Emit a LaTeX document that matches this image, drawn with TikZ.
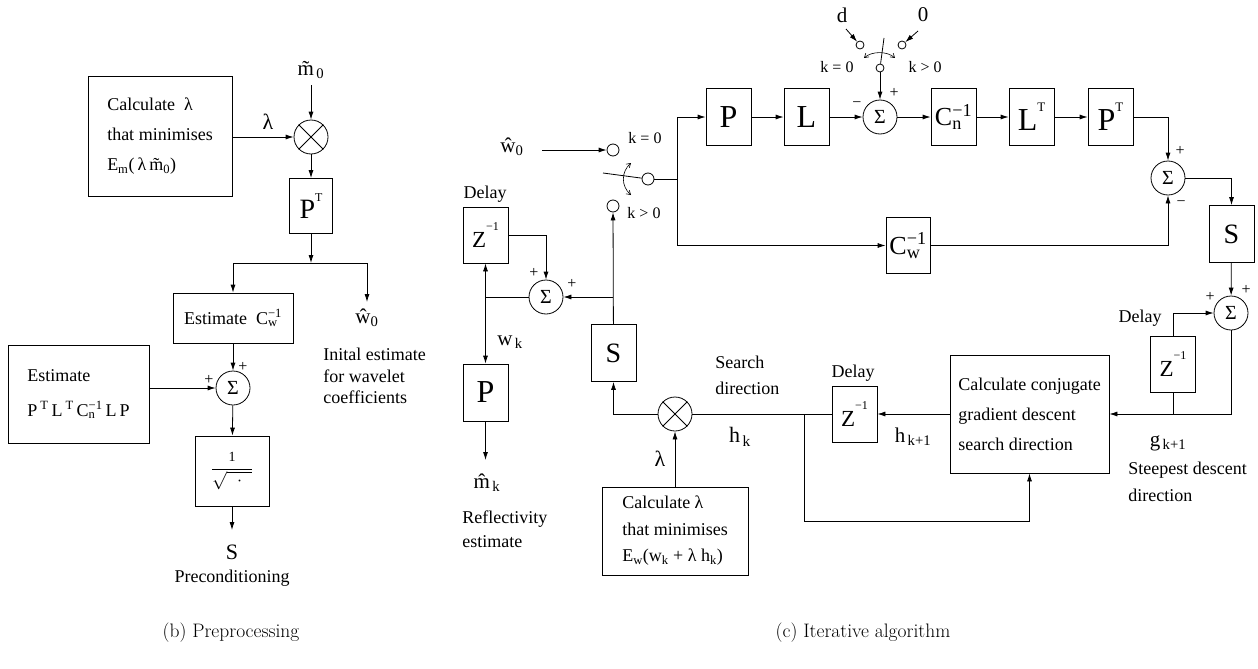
\RequirePackage{fix-cm}
\documentclass[tikz,border=0pt]{standalone}
\usepackage{amsmath}
\usepackage{fontspec}
\newfontfamily\tms{Liberation Serif}
\usetikzlibrary{arrows.meta}
\newcommand\subsupx[2]{\rlap{\textsubscript{#1}}\textsuperscript{#2}}
\newcommand\fs[1]{\fontsize{#1}{#1}\selectfont}
\newcommand\hsup[3]{\raisebox{#1}{\fontsize{#2}{#2}\selectfont #3}}
\begin{document}
\begin{tikzpicture}[x=1pt,y=-1pt,line width=0.8pt,
  every node/.style={font=\tms\fs{18}, inner sep=0pt},
  blk/.style={draw, minimum width=45pt, minimum height=57pt, font=\tms\fs{32}},
  zblk/.style={draw, minimum width=45pt, minimum height=56pt, font=\tms\fs{23}},
  sumc/.style={draw, circle, minimum size=34pt, font=\tms\fs{20}},
  mulc/.style={draw, circle, minimum size=34pt},
  swc/.style={draw, circle, minimum size=12pt},
  tsw/.style={draw, circle, minimum size=8pt},
  arr/.style={-{Latex[length=8pt,width=5pt]}},
  barb/.style={{Straight Barb[length=4pt,width=5pt]}-{Straight Barb[length=4pt,width=5pt]}, line width=0.6pt},
  sgn/.style={font=\tms\fs{16}},
  lbl/.style={font=\tms\fs{16}},
  txt/.style={align=left, anchor=north west}]
\useasboundingbox (0,0) rectangle (1258,669);

% ================= (b) Preprocessing =================
\node[draw, minimum width=144pt, minimum height=120pt, align=left, font=\tms\fontsize{18}{30}\selectfont] (calc1) at (160,136)
  {Calculate\ \ λ\\that minimises\\E\textsubscript{m}(\,λ\,\~{m}\textsubscript{0})};
\node[mulc] (mul1) at (311,137) {};
\draw (mul1.45) -- (mul1.225) (mul1.135) -- (mul1.315);
\node[font=\tms\fs{21}] (m0) at (311,70) {\~{m}\textsubscript{\,0}};
\coordinate (m0a) at (311,85);
\draw[arr] (m0a) -- (mul1);
\node[font=\tms\fs{22}] (lam1) at (268,122) {λ};
\draw[arr] (calc1.east |- mul1) -- (mul1);
\node[draw, minimum width=43pt, minimum height=55pt, font=\tms\fs{28}] (pt1) at (311,206) {P\hsup{17pt}{12}{T}};
\draw[arr] (mul1) -- (pt1);
\coordinate (j1) at (311,263);
\coordinate (jl) at (233,263);
\coordinate (jr) at (367,263);
\draw[arr] (pt1) -- (j1);
\draw (jl) -- (jr);
\node[draw, minimum width=120pt, minimum height=50pt] (estc) at (233,318) {Estimate\ \ C\subsupx{w}{−1}};
\draw[arr] (jl) -- (estc);
\node[font=\tms\fs{21}] (w0l) at (367,318) {\^{w}\textsubscript{0}};
\coordinate (w0a) at (367,302);
\draw[arr] (jr) -- (w0a);
\node[txt, font=\tms\fontsize{18}{21.5}\selectfont] (initl) at (323,348) {Inital estimate\\for wavelet\\coefficients};
\node[sumc] (sum1) at (233,388) {Σ};
\draw[arr] (estc) -- (sum1);
\node[sgn] at (243,367) {+};
\node[sgn] at (209,380) {+};
\node[draw, minimum width=141pt, minimum height=98pt, align=left, font=\tms\fontsize{18}{35}\selectfont] (estp) at (78.5,394)
  {Estimate\\P\,\textsuperscript{T}\,L\,\textsuperscript{T}\,C\subsupx{n}{−1}\,L\,P};
\draw[arr] (estp.east |- sum1) -- (sum1);
\node[draw, minimum width=74pt, minimum height=70pt, font=\fs{18}] (sq) at (232,471)
  {$\dfrac{\text{\tms\fs{14}1}}{\sqrt{\;\;\cdot\;\;}}$};
\draw[arr] (sum1) -- (sq);
\coordinate (sqa) at (232,530);
\draw[arr] (sq) -- (sqa);
\node[font=\tms\fs{22}] (Sl) at (232,552) {S};
\node (precl) at (232,578) {Preconditioning};
\node[font=\fs{19.5}] (capb) at (231,633) {(b) Preprocessing};

% ================= (c) Iterative algorithm =================
% input switch
\node[font=\tms\fs{21}] (w0r) at (512,147) {\^{w}\textsubscript{0}};
\node[swc] (swA) at (613,150) {};
\coordinate (w0s) at (542,150);
\draw[arr] (w0s) -- (swA);
\node[lbl] (k0a) at (645,138) {k = 0};
\node[swc] (swP) at (648,179) {};
\coordinate (armE) at (603,173);
\draw (armE) -- (swP);
\coordinate (ca1) at (631,163);
\coordinate (ca2) at (631,195);
\draw[barb] (ca1) .. controls (621,172) and (621,186) .. (ca2);
\node[swc] (swB) at (613,206) {};
\node[lbl] (kga) at (644,213) {k > 0};
\coordinate (jv) at (677,179);
\draw (swP) -- (jv);

% top chain
\node[blk] (Pb) at (728.5,117) {P};
\node[blk] (Lb) at (806.5,117) {L};
\node[sumc] (sum2) at (880,117) {Σ};
\node[blk, font=\tms\fs{26}] (Cn) at (953.5,117) {C\subsupx{n}{−1}};
\node[blk] (LT) at (1031.5,117) {L\hsup{19pt}{13}{T}};
\node[blk] (PT) at (1110.5,117) {P\hsup{19pt}{13}{T}};
\draw[arr] (jv) |- (Pb);
\draw[arr] (Pb) -- (Lb);
\draw[arr] (Lb) -- (sum2);
\draw[arr] (sum2) -- (Cn);
\draw[arr] (Cn) -- (LT);
\draw[arr] (LT) -- (PT);
\node[sgn] at (894,93) {+};
\node[sgn] at (857,105) {−};

% data switch
\node[font=\tms\fs{21}] (dl) at (842,15) {d};
\node[font=\tms\fs{21}] (zl0) at (923,15) {0};
\node[tsw] (dc) at (860,45) {};
\node[tsw] (zc) at (902,45) {};
\node[tsw] (tpv) at (880,68) {};
\coordinate (da) at (846,29);
\coordinate (za) at (918,31);
\draw[arr] (da) -- (dc);
\draw[arr] (za) -- (zc);
\coordinate (tarm) at (884,38);
\draw (tpv) -- (tarm);
\coordinate (cb1) at (864,58);
\coordinate (cb2) at (895,58);
\draw[barb] (cb1) .. controls (872,51) and (887,51) .. (cb2);
\node[lbl] (k0b) at (837,67) {k = 0};
\node[lbl] (kgb) at (925,67) {k > 0};
\draw[arr] (tpv) -- (sum2);

% right side
\node[sumc] (sum3) at (1168,178) {Σ};
\draw[arr] (PT) -| (sum3);
\node[sgn] at (1180,151) {+};
\node[sgn] at (1181,204) {−};
\node[blk, font=\tms\fs{28}] (Sr) at (1231.5,234) {S};
\draw[arr] (sum3) -| (Sr);
\node[blk, font=\tms\fs{26}, minimum width=44pt, minimum height=56pt] (Cw) at (908,245.5) {C\subsupx{w}{−1}};
\draw[arr] (jv) |- (Cw);
\draw[arr] (Cw) -| (sum3);
\node[sumc] (sum4) at (1231,313) {Σ};
\draw[arr] (Sr) -- (sum4);
\node[sgn] at (1210,297) {+};
\node[sgn] at (1246,290) {+};
\node[zblk] (zr) at (1173,364) {Z\hsup{17pt}{12}{−1}};
\node (dlr) at (1140,318) {Delay};
\draw[arr] (zr) |- (sum4);

% conjugate gradient box
\node[draw, minimum width=159pt, minimum height=118pt, align=left, font=\tms\fontsize{18}{30}\selectfont] (conj) at (1029.5,414)
  {Calculate conjugate\\gradient descent\\search direction};
\draw[arr] (sum4) |- (conj);
\draw (zr) -- (zr |- conj);
\node[font=\tms\fs{21}] (gk) at (1168,443) {g\textsubscript{\,k+1}};
\node[txt, font=\tms\fontsize{18}{27}\selectfont] (steep) at (1128,462) {Steepest descent\\direction};

% middle delay and search direction
\node[zblk] (zm) at (854.5,414) {Z\hsup{17pt}{12}{−1}};
\node (dlm) at (853,373) {Delay};
\draw[arr] (conj) -- (zm);
\node[font=\tms\fs{21}] (hk1) at (913,437) {h\textsubscript{\,k+1}};
\node[mulc] (mul2) at (675,414) {};
\draw (mul2.45) -- (mul2.225) (mul2.135) -- (mul2.315);
\draw (zm) -- (mul2);
\coordinate (hj) at (804,414);
\coordinate (hb) at (804,521);
\draw[arr] (hj) -- (hb) -| (conj);
\node[txt, font=\tms\fontsize{18}{26}\selectfont] (srch) at (715,356) {Search\\direction};
\node[font=\tms\fs{22}] (hk) at (740,437) {h\textsubscript{\,k}};

% lambda box
\node[draw, minimum width=146pt, minimum height=88pt, align=left, font=\tms\fontsize{18}{26.5}\selectfont] (lbox) at (675,531)
  {Calculate λ\\that minimises\\E\textsubscript{w}(w\textsubscript{k} + λ h\textsubscript{k})};
\draw[arr] (lbox) -- (mul2);
\node[font=\tms\fs{22}] (lam2) at (660,459) {λ};

% middle S and accumulator
\node[blk, font=\tms\fs{28}] (Sm) at (613.5,353) {S};
\draw[arr] (mul2) -| (Sm);
\draw[arr] (Sm) -- (swB);
\node[sumc] (sum5) at (546,297) {Σ};
\coordinate (sj) at (613,297);
\draw[arr] (sj) -- (sum5);
\node[sgn] at (534,273) {+};
\node[sgn] at (572,284) {+};
\node[zblk] (zl) at (485.5,235) {Z\hsup{17pt}{12}{−1}};
\node (dll) at (485,194) {Delay};
\draw[arr] (zl.east) -| (sum5);
\coordinate (wj) at (485.5,297);
\draw (sum5) -- (wj);
\draw[arr] (wj) -- (zl);
\node[blk] (Pl) at (485.5,392.5) {P};
\draw[arr] (wj) -- (Pl);
\node[font=\tms\fs{21}] (wk) at (510,342) {w\textsubscript{\,k}};
\coordinate (mka) at (485.5,460);
\draw[arr] (Pl) -- (mka);
\node[font=\tms\fs{21}] (mk) at (487,483) {\^{m}\textsubscript{\,k}};
\node[txt, font=\tms\fontsize{18}{24}\selectfont] (refl) at (462,510) {Reflectivity\\estimate};

\node[font=\fs{19.5}] (capc) at (863,633) {(c) Iterative algorithm};
\end{tikzpicture}
\end{document}
